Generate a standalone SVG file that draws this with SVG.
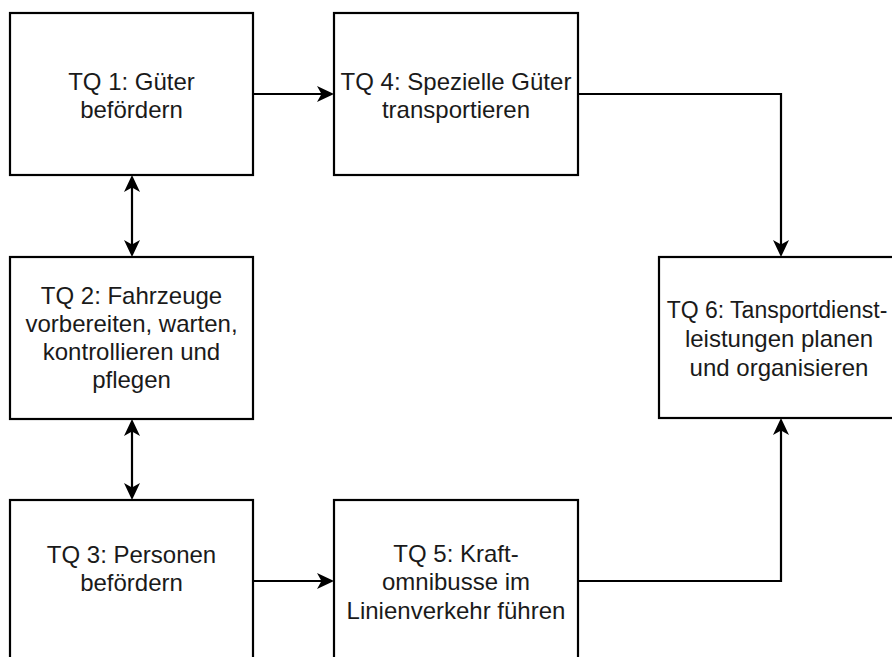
<svg xmlns="http://www.w3.org/2000/svg" width="892" height="657" viewBox="0 0 892 657">
  <style>
    .box { fill: #ffffff; stroke: #000000; stroke-width: 2.2; }
    .lbl { font-family: "Liberation Sans", Arial, sans-serif; font-size: 24px; fill: #1a1a1a; text-anchor: middle; }
    .edge { fill: none; stroke: #000000; stroke-width: 2.2; }
  </style>
  <defs>
    <marker id="arr" viewBox="0 0 17 16" refX="8" refY="8" markerWidth="17" markerHeight="16" orient="auto-start-reverse" markerUnits="userSpaceOnUse">
      <path d="M0,0 L17,8 L0,16 L4.5,8 Z" fill="#000000"/>
    </marker>
  </defs>
  <rect width="892" height="657" fill="#ffffff"/>

  <g id="connectors">
    <path class="edge" d="M253,94 H325" marker-end="url(#arr)"/>
    <path class="edge" d="M578,94 H781 V248" marker-end="url(#arr)"/>
    <path class="edge" d="M132,184 V248" marker-start="url(#arr)" marker-end="url(#arr)"/>
    <path class="edge" d="M132,428 V491" marker-start="url(#arr)" marker-end="url(#arr)"/>
    <path class="edge" d="M253,581 H325" marker-end="url(#arr)"/>
    <path class="edge" d="M578,581 H781 V427" marker-end="url(#arr)"/>
  </g>

  <g id="tq1">
    <rect class="box" x="10" y="13" width="243" height="162"/>
    <text class="lbl" x="131.5" y="90">TQ 1: Güter</text>
    <text class="lbl" x="131.5" y="118">befördern</text>
  </g>
  <g id="tq4">
    <rect class="box" x="334" y="13" width="244" height="162"/>
    <text class="lbl" x="456" y="90">TQ 4: Spezielle Güter</text>
    <text class="lbl" x="456" y="118">transportieren</text>
  </g>
  <g id="tq2">
    <rect class="box" x="10" y="257" width="243" height="162"/>
    <text class="lbl" x="131.5" y="304">TQ 2: Fahrzeuge</text>
    <text class="lbl" x="131.5" y="332">vorbereiten, warten,</text>
    <text class="lbl" x="131.5" y="360">kontrollieren und</text>
    <text class="lbl" x="131.5" y="388">pflegen</text>
  </g>
  <g id="tq6">
    <rect class="box" x="659" y="257" width="244" height="161"/>
    <text class="lbl" x="777" y="318" style="font-size:23px">TQ 6: Tansportdienst-</text>
    <text class="lbl" x="779" y="347">leistungen planen</text>
    <text class="lbl" x="779" y="376">und organisieren</text>
  </g>
  <g id="tq3">
    <rect class="box" x="10" y="500" width="243" height="162"/>
    <text class="lbl" x="131.5" y="563">TQ 3: Personen</text>
    <text class="lbl" x="131.5" y="591">befördern</text>
  </g>
  <g id="tq5">
    <rect class="box" x="334" y="500" width="244" height="162"/>
    <text class="lbl" x="456" y="562">TQ 5: Kraft-</text>
    <text class="lbl" x="456" y="590">omnibusse im</text>
    <text class="lbl" x="456" y="619">Linienverkehr führen</text>
  </g>
</svg>
